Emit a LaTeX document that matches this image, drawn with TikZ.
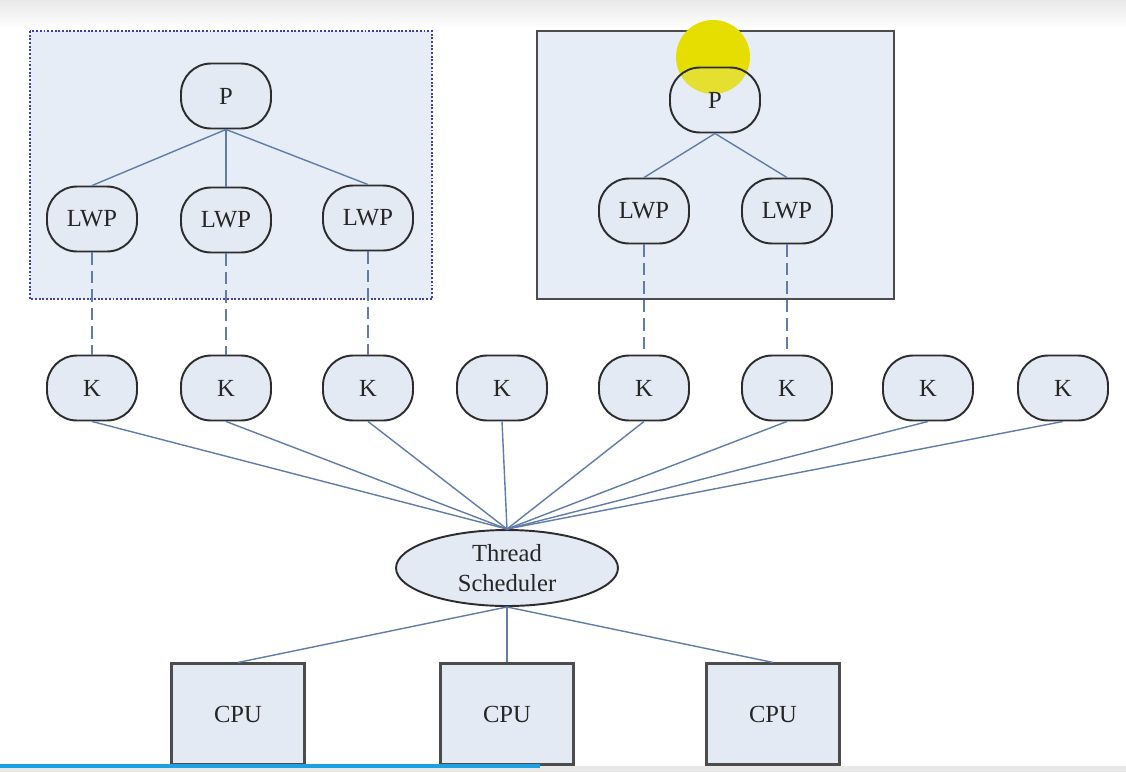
\documentclass[tikz,border=0pt]{standalone}
\usepackage{fontspec}
\setmainfont{Liberation Serif}
\usetikzlibrary{shapes.geometric, positioning}
\definecolor{nodefill}{RGB}{228, 234, 244}
\definecolor{groupfill}{RGB}{231, 237, 247}
\definecolor{linkcolor}{RGB}{95, 125, 168}
\definecolor{borderdark}{RGB}{45, 45, 45}
\definecolor{dotblue}{RGB}{62, 66, 168}
\definecolor{cursoryellow}{RGB}{230, 222, 0}
\definecolor{barblue}{RGB}{28, 160, 226}
\tikzstyle{roundnode} = [
    rectangle,
    rounded corners=0.6cm,
    minimum width=1.8cm,
    minimum height=1.3cm,
    draw=borderdark,
    line width=1.1pt,
    fill=nodefill,
    text=black!85,
    font=\fontsize{14}{17}\selectfont
]
\tikzstyle{schednode} = [
    ellipse,
    minimum width=4.44cm,
    minimum height=1.52cm,
    inner sep=0pt,
    align=center,
    draw=borderdark,
    line width=1.1pt,
    fill=nodefill,
    text=black!85,
    font=\fontsize{14}{17}\selectfont
]
\tikzstyle{cpubox} = [
    rectangle,
    minimum width=2.66cm,
    minimum height=2.02cm,
    draw=borderdark!85,
    line width=1.2pt,
    fill=nodefill,
    text=black!85,
    font=\fontsize{14}{17}\selectfont
]
\tikzstyle{link} = [
    draw=linkcolor,
    line width=0.8pt
]
\tikzstyle{dashlink} = [
    draw=linkcolor,
    line width=1.1pt,
    dash pattern=on 7pt off 3.5pt
]

\begin{document}
\begin{tikzpicture}[x=0.02cm, y=-0.02cm]

% Page
\useasboundingbox (0,0) rectangle (1126,772);
\fill[white] (0,0) rectangle (1126,772);
\shade[top color=black!9, bottom color=white] (0,0) rectangle (1126,28);

% Process boxes
\draw[fill=groupfill, draw=dotblue, line width=1.1pt, densely dotted] (30,31) rectangle (432,299);
\draw[fill=groupfill, draw=borderdark!85, line width=1.4pt] (537,31) rectangle (894,299);

% Cursor highlight
\fill[cursoryellow] (713,57) circle (0.74cm);

% Left process
\node[roundnode] (p1) at (226,96) {P};
\node[roundnode] (lwp1) at (92,219) {LWP};
\node[roundnode] (lwp2) at (226,220) {LWP};
\node[roundnode] (lwp3) at (368,218) {LWP};
\draw[link] (p1.south) -- (lwp1.north);
\draw[link] (p1.south) -- (lwp2.north);
\draw[link] (p1.south) -- (lwp3.north);

% Right process
\node[roundnode, fill opacity=0.2, text opacity=1] (p2) at (715,100) {P};
\node[roundnode] (lwp4) at (644,211) {LWP};
\node[roundnode] (lwp5) at (787,211) {LWP};
\draw[link] (p2.south) -- (lwp4.north);
\draw[link] (p2.south) -- (lwp5.north);

% Kernel threads
\node[roundnode] (k1) at (92,388) {K};
\node[roundnode] (k2) at (226,388) {K};
\node[roundnode] (k3) at (368,388) {K};
\node[roundnode] (k4) at (502,388) {K};
\node[roundnode] (k5) at (644,388) {K};
\node[roundnode] (k6) at (787,388) {K};
\node[roundnode] (k7) at (928,388) {K};
\node[roundnode] (k8) at (1063,388) {K};

% LWP to K
\draw[dashlink] (lwp1.south) -- (k1.north);
\draw[dashlink] (lwp2.south) -- (k2.north);
\draw[dashlink] (lwp3.south) -- (k3.north);
\draw[dashlink] (lwp4.south) -- (k5.north);
\draw[dashlink] (lwp5.south) -- (k6.north);

% Scheduler
\node[schednode] (sched) at (507,568) {Thread\\Scheduler};
\draw[link] (k1.south) -- (sched.north);
\draw[link] (k2.south) -- (sched.north);
\draw[link] (k3.south) -- (sched.north);
\draw[link] (k4.south) -- (sched.north);
\draw[link] (k5.south) -- (sched.north);
\draw[link] (k6.south) -- (sched.north);
\draw[link] (k7.south) -- (sched.north);
\draw[link] (k8.south) -- (sched.north);

% CPUs
\node[cpubox] (cpu1) at (238,714) {CPU};
\node[cpubox] (cpu2) at (507,714) {CPU};
\node[cpubox] (cpu3) at (773,714) {CPU};
\draw[link] (sched.south) -- (cpu1.north);
\draw[link] (sched.south) -- (cpu2.north);
\draw[link] (sched.south) -- (cpu3.north);

% Progress bar
\fill[black!9] (0,766) rectangle (1126,772);
\fill[barblue] (0,764) rectangle (540,768);

\end{tikzpicture}
\end{document}
